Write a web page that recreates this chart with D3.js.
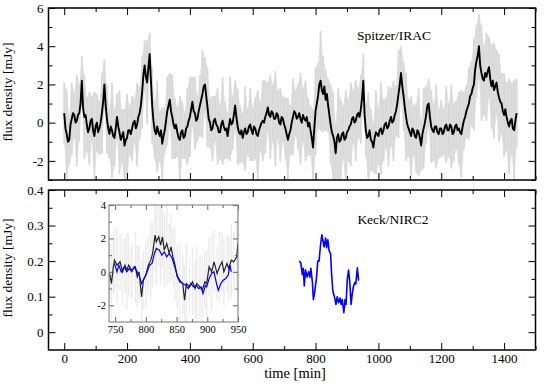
<!DOCTYPE html>
<html>
<head>
  <meta charset="utf-8">
  <style>
    body { margin: 0; background: #fff; }
    svg { display: block; }
    text { font-family: "Liberation Serif", "Times New Roman", serif; fill: #000; }
    .axis path { display: none; }
    .axis line { stroke: #000; }
    .axis text { font-size: 13px; }
    .inset .axis line { stroke: #666; }
    .inset .axis text { font-size: 10.5px; }
    .label { font-size: 13.5px; }
  </style>
</head>
<body>
<script src="https://cdn.jsdelivr.net/npm/d3@7"></script>
<script>
  // Spitzer/IRAC light curve, one point every 4 min from t = 0
  var spitzerStart = 0, spitzerStep = 4;
  var spitzerFlux = [
    0.5, -0.3, -0.6, -1.0, -0.9, -0.1, 0.2, 0.5, 0.4, 0.0, 0.1, 0.4, 0.5, 1.0, 2.2, 0.8, 0.3, 0.4, -0.1, -0.5,
    -0.3, 0.1, 0.2, -0.4, -0.7, -0.2, 0.0, -0.5, -0.3, 0.0, 0.5, 1.1, 2.0, 0.9, 0.2, -0.3, -0.6, -0.2, -0.4, -0.7,
    -0.8, -0.3, 0.3, -0.2, -0.5, -0.9, -0.7, -0.5, -1.2, -0.9, -0.8, -0.4, -0.4, -0.6, -0.3, 0.0, 0.1, -0.3, -0.1, 0.3,
    0.5, 0.9, 1.6, 2.5, 3.0, 2.4, 2.1, 2.9, 3.6, 2.2, 0.9, 0.1, -0.4, -0.6, -0.2, -0.5, -0.7, -0.4, -1.1, -0.7,
    -0.4, 0.1, 0.6, 0.9, 1.2, 0.6, 0.3, -0.1, -0.3, -0.1, -0.5, -0.8, -0.9, -0.5, -0.4, -0.8, -0.7, -0.3, -0.2, 0.1,
    0.3, 0.7, 1.1, 0.6, 0.5, 0.1, 0.2, 0.6, 0.9, 1.2, 1.5, 1.9, 2.0, 1.4, 0.8, 0.2, 0.0, -0.4, -0.3, 0.1,
    0.2, -0.1, -0.2, -0.5, -0.5, -0.1, 0.1, -0.2, -0.4, -0.3, -0.7, -0.2, 0.2, -0.1, 0.0, 0.4, 0.9, 0.3, -0.2, -0.5,
    -0.6, -0.4, -0.8, -0.5, -0.3, -0.6, -0.5, -0.2, -0.1, -0.4, -0.6, -0.2, -0.3, -0.6, -0.7, -0.4, -0.2, 0.0, 0.1, 0.0,
    0.3, 0.5, 0.8, 0.4, 0.3, 0.6, 0.5, 0.2, 0.2, 0.5, 0.4, 0.0, -0.1, 0.3, 0.2, -0.1, -0.3, -0.6, -0.9, -0.6,
    -0.4, 0.0, 0.3, 0.6, 0.5, 0.2, 0.3, 0.5, 0.2, 0.0, 0.4, 0.2, 0.1, 0.3, -0.2, 0.0, -0.4, -0.8, -1.3, -0.3,
    0.6, 1.0, 1.4, 2.0, 2.2, 1.7, 1.5, 1.9, 1.2, 1.5, 0.9, 0.4, -0.1, -0.5, -0.7, -1.0, -1.6, -0.8, -0.6, -1.0,
    -0.9, -0.6, -0.5, -0.9, -0.8, -0.5, -0.4, -0.2, -0.1, 0.2, 0.3, 0.0, 0.1, 0.4, 0.5, 0.3, 0.7, 1.3, 2.2, 0.4,
    -0.4, -0.8, -0.7, -0.4, -0.9, -1.0, -1.3, -0.8, -0.5, -0.6, -0.7, -0.4, -0.3, -0.6, -0.4, -0.1, 0.0, -0.3, -0.2, 0.1,
    0.3, 0.0, 0.1, 0.4, 0.6, 1.0, 1.5, 2.0, 2.6, 1.9, 1.4, 0.8, 0.3, -0.1, -0.3, -0.5, -0.7, -0.3, -0.4, -0.7,
    -0.8, -0.4, -0.5, -0.8, -1.2, -0.6, -0.3, 0.0, 0.4, 0.9, 1.0, 0.3, -0.2, -0.4, -0.5, -0.2, -0.2, -0.5, -0.6, -0.3,
    -0.3, -0.6, -0.5, -0.2, -0.1, -0.4, -0.4, -0.1, -0.2, -0.6, -0.5, -0.2, -0.1, -0.4, -0.3, -0.5, -0.6, -0.2, 0.1, 0.3,
    0.6, 0.8, 1.0, 1.4, 1.5, 1.8, 2.0, 2.8, 3.2, 3.5, 4.0, 3.0, 2.6, 2.3, 2.2, 2.6, 2.4, 2.7, 2.9, 2.3,
    1.9, 2.2, 1.7, 1.9, 2.1, 1.6, 1.3, 1.1, 1.0, 0.6, 0.4, 0.7, 0.3, 0.0, -0.2, 0.1, 0.2, -0.3, -0.4, 0.1,
    0.5
  ];
  // half-width of the grey scatter, one value every 8 min
  var scatterStep = 8;
  var spitzerErr = [
    1.6, 2.3, 1.3, 1.9, 1.2, 2.4, 1.5, 1.3, 2.2, 1.4,
    1.9, 1.2, 2.3, 1.5, 1.4, 2.1, 1.3, 1.8, 1.3, 2.5,
    1.5, 1.2, 2.2, 1.4, 1.9, 2.3, 1.3, 1.7, 1.2, 2.2,
    1.4, 1.9, 1.3, 2.2, 1.1, 2.0, 1.5, 2.4, 1.3, 1.9,
    1.2, 1.8, 1.4, 2.2, 1.6, 1.3, 2.3, 1.5, 1.2, 2.0,
    2.1, 1.3, 1.9, 1.2, 1.6, 2.3, 1.4, 2.1, 1.3, 1.7,
    1.2, 2.0, 1.4, 2.3, 1.5, 1.2, 2.2, 1.4, 1.3, 2.0,
    1.5, 1.3, 2.2, 1.2, 1.9, 1.4, 1.6, 2.4, 1.3, 2.1,
    1.9, 1.3, 2.2, 1.5, 2.5, 1.3, 1.9, 1.2, 1.6, 2.2,
    1.3, 2.0, 1.2, 1.7, 2.4, 1.4, 2.1, 1.5, 1.3, 2.0,
    2.3, 1.7, 2.6, 2.0, 1.6, 1.4, 2.1, 2.3, 1.6, 2.4,
    2.1, 1.4, 2.5, 1.6, 2.2, 1.4, 2.1, 1.3, 1.8, 1.4,
    1.4, 2.3, 1.6, 1.3, 2.2, 1.5, 2.4, 1.6, 1.3, 2.1,
    1.5, 2.1, 1.3, 2.3, 1.4, 1.8, 2.3, 1.5, 2.1, 1.3,
    1.8, 2.3, 1.3, 2.1, 1.5, 1.3, 1.9, 1.5, 2.2, 1.3,
    1.5, 1.2, 2.0, 1.4, 2.2, 1.5, 1.3, 1.9, 2.3, 1.5,
    1.4, 1.9, 1.7, 2.4, 1.9, 1.7, 2.5, 1.8, 2.3, 1.6,
    2.2, 2.5, 1.7, 2.3, 1.6, 2.2, 1.8, 2.5, 1.9, 2.6,
    1.8
  ];
  var spitzerTime = spitzerFlux.map(function(d, i) { return spitzerStart + i * spitzerStep; });

  // Keck/NIRC2 light curve [mJy]
  var keckTime = [748, 753, 758, 761, 764, 768, 773, 778, 782, 785,
    790, 793, 796, 803, 807, 811, 816, 820, 824, 827,
    832, 835, 839, 843, 848, 851, 855, 860, 865, 869,
    873, 878, 881, 885, 890, 894, 897, 901, 905, 909,
    913, 917, 921, 925, 928, 933, 937];
  var keckFlux = [0.200, 0.195, 0.162, 0.180, 0.130, 0.175, 0.155, 0.170, 0.155, 0.180,
    0.140, 0.092, 0.106, 0.153, 0.200, 0.200, 0.246, 0.274, 0.255, 0.240,
    0.265, 0.238, 0.260, 0.230, 0.220, 0.165, 0.116, 0.100, 0.078, 0.100,
    0.083, 0.096, 0.078, 0.092, 0.055, 0.092, 0.078, 0.148, 0.175, 0.140,
    0.078, 0.110, 0.130, 0.140, 0.135, 0.181, 0.145];

  // inset: Spitzer (black, grey scatter) and rescaled Keck (blue)
  var insetSpTime = [741, 744, 747, 749, 753, 758, 762, 766, 769, 772,
    777, 783, 786, 789, 793, 796, 800, 804, 808, 811,
    815, 817, 821, 824, 827, 830, 834, 838, 841, 844,
    847, 851, 855, 860, 863, 866, 871, 876, 880, 883,
    888, 892, 896, 899, 903, 907, 911, 916, 920, 924,
    927, 932, 935, 939, 943, 948, 950];
  var insetSpFlux = [-0.1, -0.7, 0.3, 0.7, 0.4, 0.6, 0.0, 0.4, 0.1, 0.4,
    0.1, 0.3, -0.3, 0.0, -1.5, -0.5, -0.2, 0.4, 0.7, 1.1,
    2.2, 1.8, 2.1, 1.6, 2.1, 1.3, 1.7, 1.1, 1.5, 0.9,
    0.5, -0.3, -0.6, -0.7, -1.7, -0.7, -0.9, -0.6, -1.0, -0.7,
    -0.9, -1.1, -0.6, -0.7, 0.3, 0.0, 0.6, -0.1, 0.3, 0.6,
    0.0, 0.5, 0.2, 0.7, 0.6, 0.9, 1.7];
  var insetSpErr = [1.8, 2.1, 1.6, 1.9, 2.2, 1.7, 2.0, 1.6, 2.3, 1.8,
    1.7, 2.1, 1.9, 1.6, 2.2, 1.8, 2.0, 1.7, 2.3, 1.9,
    2.1, 2.6, 1.8, 2.4, 1.9, 2.2, 2.5, 1.8, 2.0, 1.7,
    2.2, 1.9, 2.3, 1.8, 2.1, 2.4, 1.7, 2.0, 1.8, 2.2,
    1.9, 2.1, 1.7, 2.0, 1.8, 2.3, 1.9, 1.6, 2.1, 1.8,
    2.0, 1.7, 1.9, 2.2, 1.8, 2.0, 1.9];
  var insetKeckTime = [749, 753, 756, 760, 765, 769, 773, 777, 781, 786,
    789, 793, 797, 801, 806, 810, 814, 817, 822, 826,
    830, 834, 838, 843, 847, 851, 855, 860, 865, 869,
    873, 878, 882, 886, 890, 893, 897, 899, 903, 907,
    911, 915, 918, 922, 926, 930, 934, 937, 939];
  var insetKeckFlux = [0.5, 0.0, 0.4, 0.0, 0.3, 0.0, 0.2, 0.0, 0.3, 0.0,
    -0.2, -0.7, -0.4, -0.1, 0.4, 0.5, 1.1, 1.4, 1.3, 1.0,
    1.2, 0.9, 1.1, 0.8, 0.3, -0.2, -0.5, -0.7, -0.8, -1.0,
    -0.7, -0.9, -0.8, -1.0, -0.9, -1.3, -0.8, -0.9, -0.4, -0.1,
    0.0, -0.7, -1.1, -0.7, -0.5, -0.4, -0.2, 0.4, 0.0];

  // tick values
  var timeMajor = [0, 200, 400, 600, 800, 1000, 1200, 1400];
  var timeMinor = [100, 300, 500, 700, 900, 1100, 1300, 1500];
  var topYMajor = [-2, 0, 2, 4, 6];
  var topYMinor = [-3, -1, 1, 3, 5];
  var botYMajor = [0, 0.1, 0.2, 0.3, 0.4];
  var botYMinor = [0.05, 0.15, 0.25, 0.35];
  var insetXMajor = [750, 800, 850, 900, 950];
  var insetXMinor = [775, 825, 875, 925];
  var insetYMajor = [-2, 0, 2, 4];
  var insetYMinor = [-1, 1, 3];

  var width = 545, height = 386;
  var left = 48.5, right = 535.5;

  var x = d3.scaleLinear().domain([-50, 1500]).range([left, right]);
  var yTop = d3.scaleLinear().domain([-3, 6]).range([180, 8]);
  var yBot = d3.scaleLinear().domain([-0.05, 0.4]).range([350, 190]);
  var xIn = d3.scaleLinear().domain([740, 950]).range([109, 238]);
  var yIn = d3.scaleLinear().domain([-3, 4]).range([322, 205]);

  var svg = d3.select("body").append("svg")
      .attr("width", width)
      .attr("height", height);

  var defs = svg.append("defs");
  defs.append("clipPath").attr("id", "clipTop").append("rect")
      .attr("x", left).attr("y", yTop(6)).attr("width", right - left).attr("height", yTop(-3) - yTop(6));
  defs.append("clipPath").attr("id", "clipIn").append("rect")
      .attr("x", xIn(740)).attr("y", yIn(4)).attr("width", xIn(950) - xIn(740)).attr("height", yIn(-3) - yIn(4));

  function frameTicks(g, xs, ys, xMaj, xMin, yMaj, yMin, big, small) {
    var x0 = xs.range()[0], x1 = xs.range()[1], y0 = ys.range()[0], y1 = ys.range()[1];
    g.append("g").attr("class", "axis").attr("transform", "translate(0," + y1 + ")")
        .call(d3.axisTop(xs).tickValues(xMaj).tickSize(-big).tickFormat(""));
    g.append("g").attr("class", "axis").attr("transform", "translate(0," + y1 + ")")
        .call(d3.axisTop(xs).tickValues(xMin).tickSize(-small).tickFormat(""));
    g.append("g").attr("class", "axis").attr("transform", "translate(0," + y0 + ")")
        .call(d3.axisBottom(xs).tickValues(xMin).tickSize(-small).tickFormat(""));
    g.append("g").attr("class", "axis").attr("transform", "translate(" + x0 + ",0)")
        .call(d3.axisLeft(ys).tickValues(yMin).tickSize(-small).tickFormat(""));
    g.append("g").attr("class", "axis").attr("transform", "translate(" + x1 + ",0)")
        .call(d3.axisRight(ys).tickValues(yMaj).tickSize(-big).tickFormat(""));
    g.append("g").attr("class", "axis").attr("transform", "translate(" + x1 + ",0)")
        .call(d3.axisRight(ys).tickValues(yMin).tickSize(-small).tickFormat(""));
  }

  // ---- top panel: Spitzer ----
  var panelTop = svg.append("g");
  var ratio = scatterStep / spitzerStep;
  var scatter = panelTop.append("g").attr("clip-path", "url(#clipTop)");
  // soft envelope under the individual scatter lines
  scatter.append("path")
      .datum(spitzerErr)
      .attr("fill", "#e3e3e3")
      .attr("d", d3.area()
        .x(function(d, i) { return x(spitzerTime[i * ratio]); })
        .y0(function(d, i) { return yTop(spitzerFlux[i * ratio] - d); })
        .y1(function(d, i) { return yTop(spitzerFlux[i * ratio] + d); }));
  scatter.selectAll("line").data(spitzerErr).enter().append("line")
      .attr("x1", function(d, i) { return x(spitzerTime[i * ratio]); })
      .attr("x2", function(d, i) { return x(spitzerTime[i * ratio]); })
      .attr("y1", function(d, i) { return yTop(spitzerFlux[i * ratio] - d); })
      .attr("y2", function(d, i) { return yTop(spitzerFlux[i * ratio] + d); })
      .attr("stroke", "#d8d8d8")
      .attr("stroke-width", 1.8);

  panelTop.append("path")
      .datum(spitzerFlux)
      .attr("clip-path", "url(#clipTop)")
      .attr("fill", "none")
      .attr("stroke", "#000")
      .attr("stroke-width", 1.9)
      .attr("stroke-linejoin", "round")
      .attr("d", d3.line()
        .x(function(d, i) { return x(spitzerTime[i]); })
        .y(function(d) { return yTop(d); }));

  frameTicks(panelTop, x, yTop, timeMajor, timeMinor, topYMajor, topYMinor, 7, 4);
  panelTop.append("g").attr("class", "axis").attr("transform", "translate(0,180)")
      .call(d3.axisBottom(x).tickValues(timeMajor).tickSize(-7).tickFormat(""));
  panelTop.append("g").attr("class", "axis").attr("transform", "translate(" + left + ",0)")
      .call(d3.axisLeft(yTop).tickValues(topYMajor).tickSize(-7).tickPadding(5).tickFormat(String));
  panelTop.append("rect")
      .attr("x", left).attr("y", yTop(6))
      .attr("width", right - left).attr("height", yTop(-3) - yTop(6))
      .attr("fill", "none").attr("stroke", "#000").attr("stroke-width", 1.5);

  panelTop.append("text").attr("class", "label")
      .attr("x", 394).attr("y", 40).attr("text-anchor", "middle")
      .text("Spitzer/IRAC");
  panelTop.append("text").attr("class", "label")
      .attr("transform", "translate(12,92) rotate(-90)").attr("text-anchor", "middle")
      .text("flux density [mJy]");

  // ---- bottom panel: Keck ----
  var panelBot = svg.append("g");
  panelBot.append("path")
      .datum(keckFlux)
      .attr("fill", "none")
      .attr("stroke", "#0000ff")
      .attr("stroke-width", 1.6)
      .attr("stroke-linejoin", "round")
      .attr("d", d3.line()
        .x(function(d, i) { return x(keckTime[i]); })
        .y(function(d) { return yBot(d); }));

  frameTicks(panelBot, x, yBot, timeMajor, timeMinor, botYMajor, botYMinor, 7, 4);
  panelBot.append("g").attr("class", "axis").attr("transform", "translate(0,350)")
      .call(d3.axisBottom(x).tickValues(timeMajor).tickSize(-7).tickPadding(4).tickFormat(String));
  panelBot.append("g").attr("class", "axis").attr("transform", "translate(" + left + ",0)")
      .call(d3.axisLeft(yBot).tickValues(botYMajor).tickSize(-7).tickPadding(5).tickFormat(String));
  panelBot.append("rect")
      .attr("x", left).attr("y", yBot(0.4))
      .attr("width", right - left).attr("height", yBot(-0.05) - yBot(0.4))
      .attr("fill", "none").attr("stroke", "#000").attr("stroke-width", 1.5);

  panelBot.append("text").attr("class", "label")
      .attr("x", 393).attr("y", 224).attr("text-anchor", "middle")
      .text("Keck/NIRC2");
  panelBot.append("text").attr("class", "label")
      .attr("transform", "translate(12,268) rotate(-90)").attr("text-anchor", "middle")
      .text("flux density [mJy]");
  svg.append("text").attr("class", "label")
      .attr("x", 295).attr("y", 378).attr("text-anchor", "middle")
      .style("font-size", "14.5px")
      .text("time [min]");

  // ---- inset ----
  var inset = svg.append("g").attr("class", "inset");
  inset.append("rect")
      .attr("x", xIn(740)).attr("y", yIn(4))
      .attr("width", xIn(950) - xIn(740)).attr("height", yIn(-3) - yIn(4))
      .attr("fill", "#fff");
  inset.append("g").attr("clip-path", "url(#clipIn)")
    .selectAll("line").data(insetSpFlux).enter().append("line")
      .attr("x1", function(d, i) { return xIn(insetSpTime[i]); })
      .attr("x2", function(d, i) { return xIn(insetSpTime[i]); })
      .attr("y1", function(d, i) { return yIn(d - insetSpErr[i]); })
      .attr("y2", function(d, i) { return yIn(d + insetSpErr[i]); })
      .attr("stroke", "#ececec")
      .attr("stroke-width", 1.5);
  inset.append("path")
      .datum(insetSpFlux)
      .attr("clip-path", "url(#clipIn)")
      .attr("fill", "none")
      .attr("stroke", "#222")
      .attr("stroke-width", 1.2)
      .attr("d", d3.line()
        .x(function(d, i) { return xIn(insetSpTime[i]); })
        .y(function(d) { return yIn(d); }));
  inset.append("path")
      .datum(insetKeckFlux)
      .attr("fill", "none")
      .attr("stroke", "#0000ff")
      .attr("stroke-width", 1.2)
      .attr("d", d3.line()
        .x(function(d, i) { return xIn(insetKeckTime[i]); })
        .y(function(d) { return yIn(d); }));

  frameTicks(inset, xIn, yIn, insetXMajor, insetXMinor, insetYMajor, insetYMinor, 5, 3);
  inset.append("g").attr("class", "axis").attr("transform", "translate(0," + yIn(-3) + ")")
      .call(d3.axisBottom(xIn).tickValues(insetXMajor).tickSize(-5).tickPadding(4).tickFormat(String));
  inset.append("g").attr("class", "axis").attr("transform", "translate(" + xIn(740) + ",0)")
      .call(d3.axisLeft(yIn).tickValues(insetYMajor).tickSize(-5).tickPadding(3).tickFormat(String));
  inset.append("rect")
      .attr("x", xIn(740)).attr("y", yIn(4))
      .attr("width", xIn(950) - xIn(740)).attr("height", yIn(-3) - yIn(4))
      .attr("fill", "none").attr("stroke", "#777").attr("stroke-width", 1);
</script>
</body>
</html>
